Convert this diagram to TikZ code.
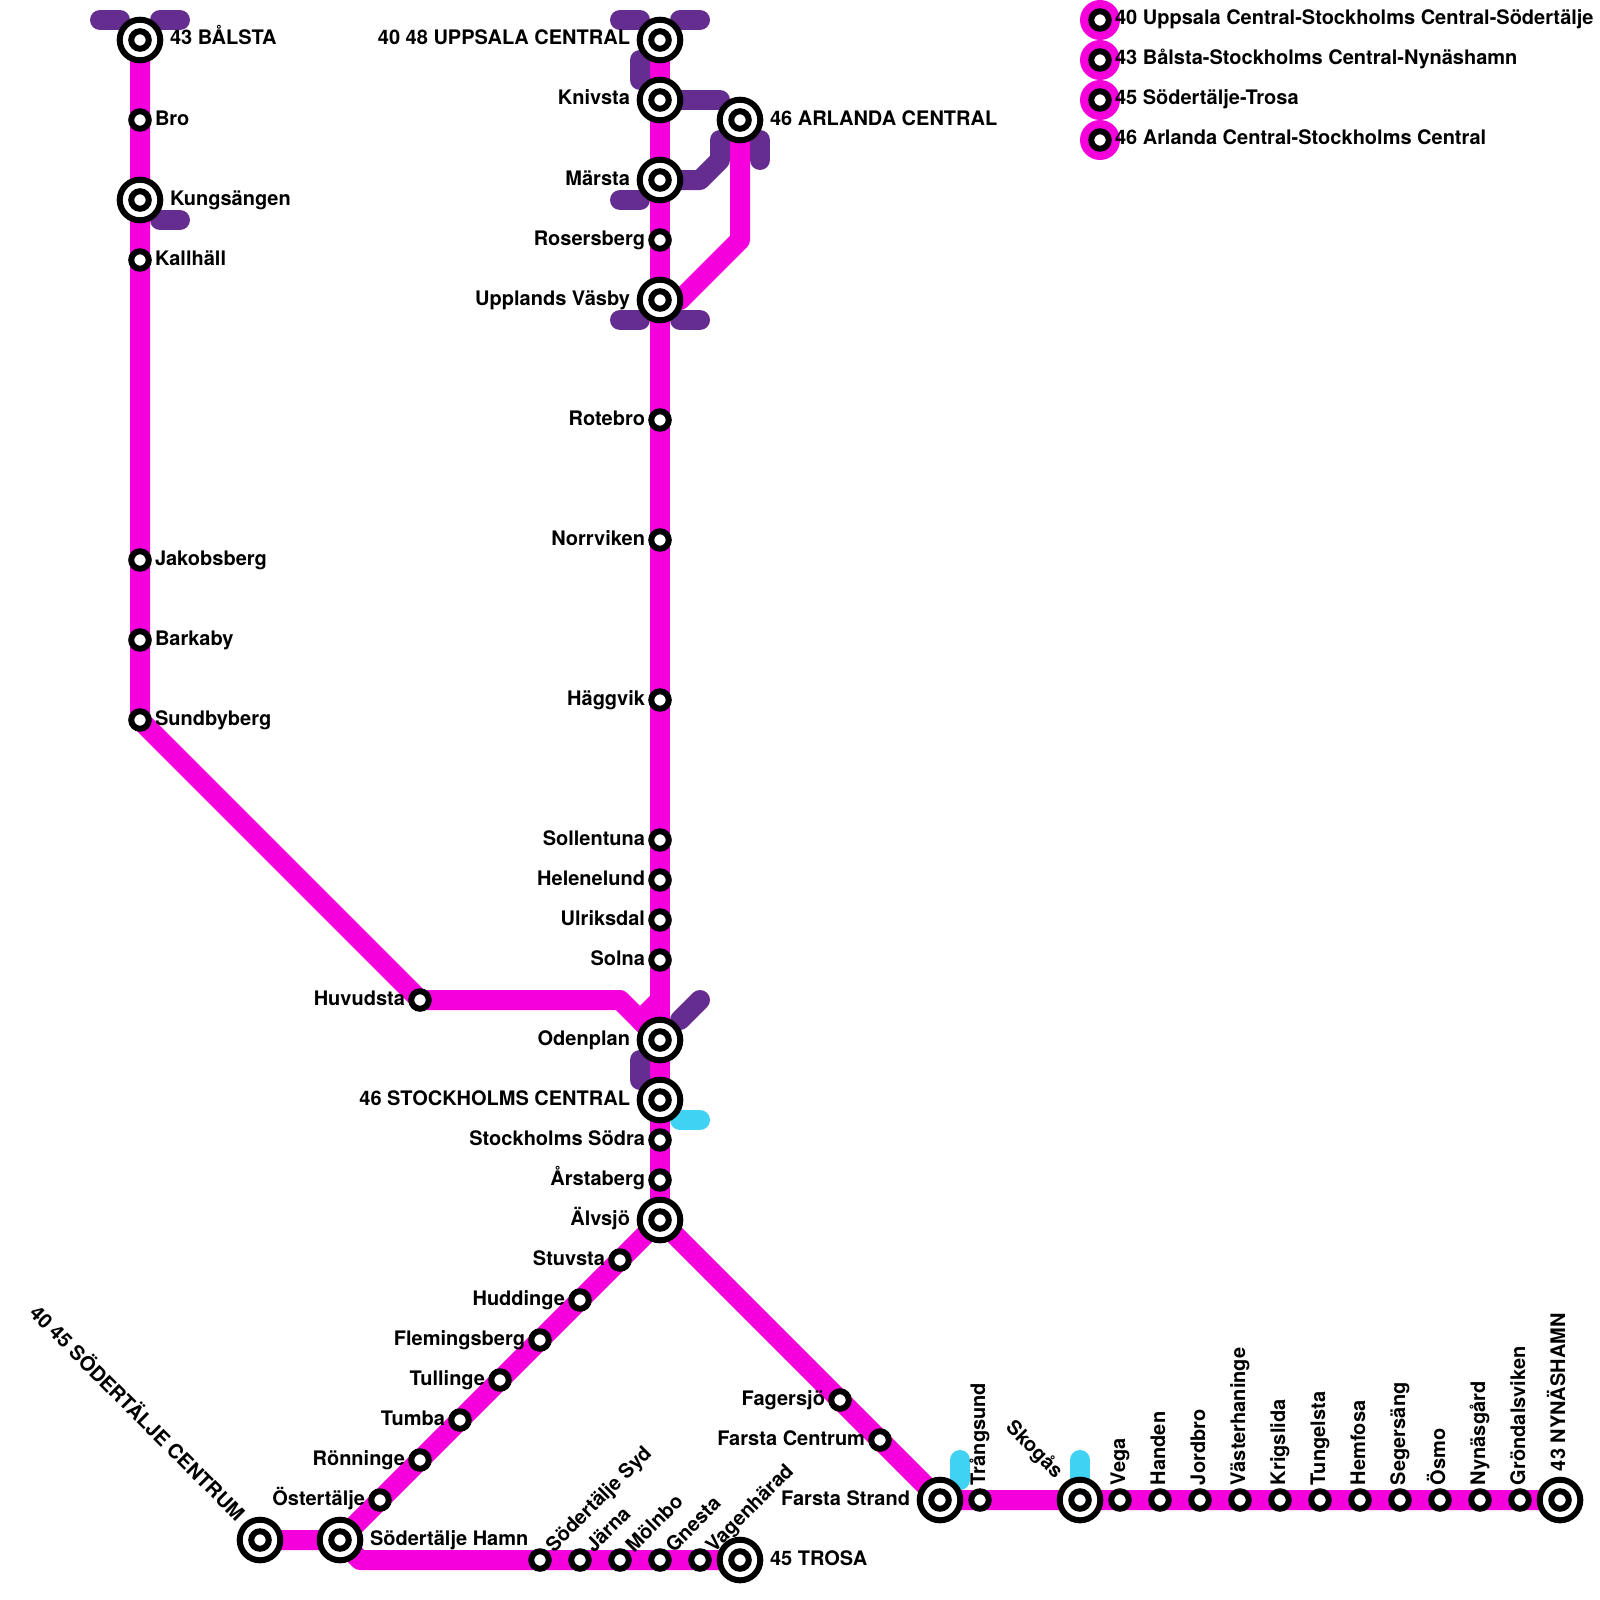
\documentclass[tikz,border=0pt]{standalone}
\usepackage{fontspec}
\setmainfont{TeX Gyre Heros}
\definecolor{metro}{HTML}{F500DD}
\definecolor{stub}{HTML}{662D91}
\definecolor{sky}{HTML}{3FD2F2}
\pgfdeclarelayer{back}
\pgfsetlayers{back,main}
\tikzset{
  ringsmall/.style={circle,draw=black,fill=white,line width=6pt,outer sep=0pt,inner sep=0pt,minimum size=17.5pt},
  ringbig/.style={circle,draw=black,fill=white,line width=6pt,outer sep=0pt,inner sep=0pt,minimum size=40.6pt},
  lab/.style={inner sep=0pt,outer sep=0pt,font=\fontsize{20}{22}\selectfont\bfseries,text=black},
  labr/.style={lab,anchor=base west},
  labl/.style={lab,anchor=base east},
  metroline/.style={draw=metro,line width=20pt,line cap=round,line join=round},
  purplestub/.style={draw=stub,line width=20pt,line cap=round,line join=round},
  skystub/.style={draw=sky,line width=20pt,line cap=round,line join=round},
  legendblob/.style={circle,fill=metro,inner sep=0pt,outer sep=0pt,minimum size=40pt},
}
% small station: id, x, y
\newcommand{\SmallSt}[3]{\node[ringsmall] (#1) at (#2,#3) {};}
\newcommand{\BigSt}[3]{\node[ringbig] (#1) at (#2,#3) {};\node[ringsmall] (#1-in) at (#1.center) {};}
\begin{document}
\begin{tikzpicture}[x=1pt,y=-1pt]
\useasboundingbox (0,0) rectangle (1600,1600);
% west branch
\BigSt{balsta}{140}{40}
\SmallSt{bro}{140}{120}
\BigSt{kungs}{140}{200}
\SmallSt{kallhall}{140}{260}
\SmallSt{jakobsberg}{140}{560}
\SmallSt{barkaby}{140}{640}
\SmallSt{sundbyberg}{140}{720}
\SmallSt{huvudsta}{420}{1000}
% north line
\BigSt{uppsala}{660}{40}
\BigSt{knivsta}{660}{100}
\BigSt{marsta}{660}{180}
\SmallSt{rosersberg}{660}{240}
\BigSt{vasby}{660}{300}
\SmallSt{rotebro}{660}{420}
\SmallSt{norrviken}{660}{540}
\SmallSt{haggvik}{660}{700}
\SmallSt{sollentuna}{660}{840}
\SmallSt{helenelund}{660}{880}
\SmallSt{ulriksdal}{660}{920}
\SmallSt{solna}{660}{960}
\BigSt{odenplan}{660}{1040}
\BigSt{central}{660}{1100}
\SmallSt{sodra}{660}{1140}
\SmallSt{arstaberg}{660}{1180}
\BigSt{alvsjo}{660}{1220}
\BigSt{arlanda}{740}{120}
% south-west
\SmallSt{stuvsta}{620}{1260}
\SmallSt{huddinge}{580}{1300}
\SmallSt{flemingsberg}{540}{1340}
\SmallSt{tullinge}{500}{1380}
\SmallSt{tumba}{460}{1420}
\SmallSt{ronninge}{420}{1460}
\SmallSt{ostertalje}{380}{1500}
\BigSt{hamn}{340}{1540}
\BigSt{centrum}{260}{1540}
\SmallSt{syd}{540}{1560}
\SmallSt{jarna}{580}{1560}
\SmallSt{molnbo}{620}{1560}
\SmallSt{gnesta}{660}{1560}
\SmallSt{vagnharad}{700}{1560}
\BigSt{trosa}{740}{1560}
% south-east
\SmallSt{fagersjo}{840}{1400}
\SmallSt{farstac}{880}{1440}
\BigSt{farstas}{940}{1500}
\SmallSt{trangsund}{980}{1500}
\BigSt{skogas}{1080}{1500}
\SmallSt{vega}{1120}{1500}
\SmallSt{handen}{1160}{1500}
\SmallSt{jordbro}{1200}{1500}
\SmallSt{vasterhaninge}{1240}{1500}
\SmallSt{krigslida}{1280}{1500}
\SmallSt{tungelsta}{1320}{1500}
\SmallSt{hemfosa}{1360}{1500}
\SmallSt{segersang}{1400}{1500}
\SmallSt{osmo}{1440}{1500}
\SmallSt{nynasgard}{1480}{1500}
\SmallSt{grondalsviken}{1520}{1500}
\BigSt{nynashamn}{1560}{1500}
% elbows
\coordinate (hA) at (620,1000);
\coordinate (oA) at (660,1000);
\coordinate (oB) at (640,1020);
\coordinate (aA) at (680,300);
\coordinate (aB) at (740,240);
\coordinate (tA) at (360,1560);
\begin{pgfonlayer}{back}
% purple stubs
\draw[purplestub] (100,20)--(120,20);
\draw[purplestub] (160,20)--(180,20);
\draw[purplestub] (160,220)--(180,220);
\draw[purplestub] (620,20)--(640,20);
\draw[purplestub] (680,20)--(700,20);
\draw[purplestub] (640,60)--(640,80);
\draw[purplestub] (knivsta.center)--(720,100);
\draw[purplestub] (marsta.center)--(700,180)--(720,160)--(720,140);
\draw[purplestub] (620,200)--(640,200);
\draw[purplestub] (760,140)--(760,160);
\draw[purplestub] (620,320)--(640,320);
\draw[purplestub] (680,320)--(700,320);
\draw[purplestub] (680,1020)--(700,1000);
\draw[purplestub] (640,1060)--(640,1080);
% blue stubs
\draw[skystub] (680,1120)--(700,1120);
\draw[skystub] (960,1460)--(960,1480);
\draw[skystub] (1080,1460)--(1080,1490);
% lines
\draw[metroline] (balsta.center)--(sundbyberg.center)--(huvudsta.center)--(hA)--(odenplan.center);
\draw[metroline] (oA)--(oB)--(odenplan.center);
\draw[metroline] (uppsala.center)--(alvsjo.center);
\draw[metroline] (vasby.center)--(aA)--(aB)--(arlanda.center);
\draw[metroline] (alvsjo.center)--(hamn.center)--(centrum.center);
\draw[metroline] (hamn.center)--(tA)--(trosa.center);
\draw[metroline] (alvsjo.center)--(farstas.center)--(nynashamn.center);
\end{pgfonlayer}
% labels right
\node[labr] (l1) at (170,45) {43 BÅLSTA};
\node[labr] (l2) at (155,125) {Bro};
\node[labr] (l3) at (170,205) {Kungsängen};
\node[labr] (l4) at (155,265) {Kallhäll};
\node[labr] (l5) at (155,565) {Jakobsberg};
\node[labr] (l6) at (155,645) {Barkaby};
\node[labr] (l7) at (155,725) {Sundbyberg};
\node[labr] (l8) at (770,125) {46 ARLANDA CENTRAL};
\node[labr] (l9) at (370,1545) {Södertälje Hamn};
\node[labr] (l10) at (770,1565) {45 TROSA};
% labels left
\node[labl] (m1) at (630,45) {40 48 UPPSALA CENTRAL};
\node[labl] (m2) at (630,105) {Knivsta};
\node[labl] (m3) at (630,185) {Märsta};
\node[labl] (m4) at (645,245) {Rosersberg};
\node[labl] (m5) at (630,305) {Upplands Väsby};
\node[labl] (m6) at (645,425) {Rotebro};
\node[labl] (m7) at (645,545) {Norrviken};
\node[labl] (m8) at (645,705) {Häggvik};
\node[labl] (m9) at (645,845) {Sollentuna};
\node[labl] (m10) at (645,885) {Helenelund};
\node[labl] (m11) at (645,925) {Ulriksdal};
\node[labl] (m12) at (645,965) {Solna};
\node[labl] (m13) at (405,1005) {Huvudsta};
\node[labl] (m14) at (630,1045) {Odenplan};
\node[labl] (m15) at (630,1105) {46 STOCKHOLMS CENTRAL};
\node[labl] (m16) at (645,1145) {Stockholms Södra};
\node[labl] (m17) at (645,1185) {Årstaberg};
\node[labl] (m18) at (630,1225) {Älvsjö};
\node[labl] (m19) at (605,1265) {Stuvsta};
\node[labl] (m20) at (565,1305) {Huddinge};
\node[labl] (m21) at (525,1345) {Flemingsberg};
\node[labl] (m22) at (485,1385) {Tullinge};
\node[labl] (m23) at (445,1425) {Tumba};
\node[labl] (m24) at (405,1465) {Rönninge};
\node[labl] (m25) at (365,1505) {Östertälje};
\node[labl] (m26) at (825,1405) {Fagersjö};
\node[labl] (m27) at (865,1445) {Farsta Centrum};
\node[labl] (m28) at (910,1505) {Farsta Strand};
% rotated labels
\node[labr,rotate=45] (r1) at (554,1553) {Södertälje Syd};
\node[labr,rotate=45] (r2) at (594,1553) {Järna};
\node[labr,rotate=45] (r3) at (634,1553) {Mölnbo};
\node[labr,rotate=45] (r4) at (674,1553) {Gnesta};
\node[labr,rotate=45] (r5) at (714,1553) {Vagenhärad};
\node[labr,rotate=90] (v1) at (985,1485) {Trångsund};
\node[labr,rotate=90] (v2) at (1125,1485) {Vega};
\node[labr,rotate=90] (v3) at (1165,1485) {Handen};
\node[labr,rotate=90] (v4) at (1205,1485) {Jordbro};
\node[labr,rotate=90] (v5) at (1245,1485) {Västerhaninge};
\node[labr,rotate=90] (v6) at (1285,1485) {Krigslida};
\node[labr,rotate=90] (v7) at (1325,1485) {Tungelsta};
\node[labr,rotate=90] (v8) at (1365,1485) {Hemfosa};
\node[labr,rotate=90] (v9) at (1405,1485) {Segersäng};
\node[labr,rotate=90] (v10) at (1445,1485) {Ösmo};
\node[labr,rotate=90] (v11) at (1485,1485) {Nynäsgård};
\node[labr,rotate=90] (v12) at (1525,1485) {Gröndalsviken};
\node[labr,rotate=90] (v13) at (1565,1471) {43 NYNÄSHAMN};
\node[labl,rotate=-45] (d1) at (1055,1479) {Skogås};
\node[labl,rotate=-45] (d2) at (236,1522) {40 45 SÖDERTÄLJE CENTRUM};
% legend
\node[legendblob] (b1) at (1100,20) {};
\node[legendblob] (b2) at (1100,60) {};
\node[legendblob] (b3) at (1100,100) {};
\node[legendblob] (b4) at (1100,140) {};
\SmallSt{k1}{1100}{20}
\SmallSt{k2}{1100}{60}
\SmallSt{k3}{1100}{100}
\SmallSt{k4}{1100}{140}
\node[labr] (t1) at (1115,25) {40 Uppsala Central-Stockholms Central-Södertälje};
\node[labr] (t2) at (1115,65) {43 Bålsta-Stockholms Central-Nynäshamn};
\node[labr] (t3) at (1115,105) {45 Södertälje-Trosa};
\node[labr] (t4) at (1115,145) {46 Arlanda Central-Stockholms Central};
\end{tikzpicture}
\end{document}
